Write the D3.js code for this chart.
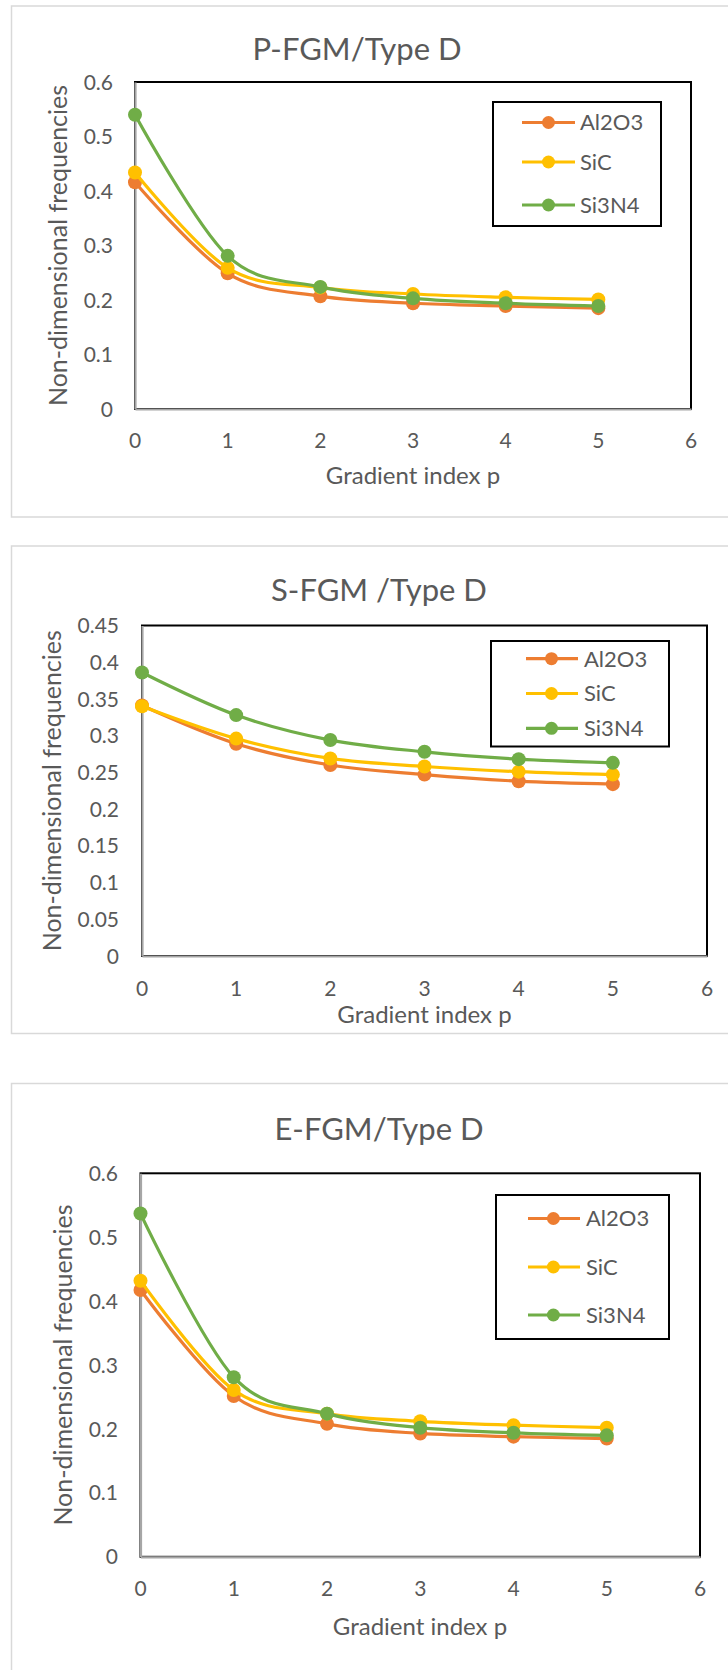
<!DOCTYPE html>
<html>
<head>
<meta charset="utf-8">
<script src="https://cdn.jsdelivr.net/npm/d3@7"></script>
<style>
  html, body { margin: 0; padding: 0; background: #fff; }
  svg { display: block; }
  text { font-family: Lato, "Open Sans", sans-serif; fill: #595959; }
</style>
</head>
<body>
<svg id="chart" width="728" height="1670"></svg>
<script>
// Gradient index values and axis ticks
const gradientIndex = [0, 1, 2, 3, 4, 5];
const xTickValues = [0, 1, 2, 3, 4, 5, 6];
const materials = ["Al2O3", "SiC", "Si3N4"];
const materialColors = ["#ED7D31", "#FFC000", "#70AD47"];

// P-FGM / Type D
const pfgmAl2O3 = [0.416, 0.249, 0.207, 0.194, 0.189, 0.185];
const pfgmSiC   = [0.434, 0.259, 0.223, 0.211, 0.205, 0.201];
const pfgmSi3N4 = [0.540, 0.281, 0.224, 0.203, 0.194, 0.189];

// S-FGM / Type D
const sfgmAl2O3 = [0.341, 0.289, 0.260, 0.247, 0.238, 0.234];
const sfgmSiC   = [0.340, 0.296, 0.269, 0.258, 0.251, 0.247];
const sfgmSi3N4 = [0.386, 0.328, 0.294, 0.278, 0.268, 0.263];

// E-FGM / Type D
const efgmAl2O3 = [0.4175, 0.2516, 0.208, 0.193, 0.188, 0.185];
const efgmSiC   = [0.432, 0.261, 0.224, 0.212, 0.206, 0.202];
const efgmSi3N4 = [0.537, 0.281, 0.224, 0.202, 0.194, 0.190];

// Y tick values
const yTicksWide = [0, 0.1, 0.2, 0.3, 0.4, 0.5, 0.6];
const yTicksNarrow = [0, 0.05, 0.1, 0.15, 0.2, 0.25, 0.3, 0.35, 0.4, 0.45];

const chartTitles = ["P-FGM/Type D", "S-FGM /Type D", "E-FGM/Type D"];
const xAxisTitle = "Gradient index p";
const yAxisTitle = "Non-dimensional frequencies";

// Panel geometry (pixels)
const panels = [
  {
    title: chartTitles[0], series: [pfgmAl2O3, pfgmSiC, pfgmSi3N4], yTicks: yTicksWide, yMax: 0.6,
    frame: { x: 11.5, y: 6, w: 730, h: 511 },
    plot: { left: 135, right: 691, top: 82, bottom: 409 },
    titleX: 357, titleY: 60, xTickY: 448, xTitleX: 413, xTitleY: 484,
    yTitleX: 67, yTickRight: 113,
    legend: { x: 493, y: 102, w: 168, h: 124, rows: [122.5, 162, 205], l0: 522, l1: 575, m: 548.5, tx: 580 }
  },
  {
    title: chartTitles[1], series: [sfgmAl2O3, sfgmSiC, sfgmSi3N4], yTicks: yTicksNarrow, yMax: 0.45,
    frame: { x: 11.5, y: 546, w: 730, h: 487.5 },
    plot: { left: 142, right: 707, top: 625.5, bottom: 956 },
    titleX: 379, titleY: 601, xTickY: 996, xTitleX: 424.5, xTitleY: 1023,
    yTitleX: 61, yTickRight: 119,
    legend: { x: 491, y: 641, w: 178, h: 105.5, rows: [658.7, 693.5, 728.3], l0: 526, l1: 578, m: 551.5, tx: 584 }
  },
  {
    title: chartTitles[2], series: [efgmAl2O3, efgmSiC, efgmSi3N4], yTicks: yTicksWide, yMax: 0.6,
    frame: { x: 11.5, y: 1083.5, w: 730, h: 600 },
    plot: { left: 140.5, right: 700, top: 1173.3, bottom: 1556.8 },
    titleX: 379, titleY: 1140, xTickY: 1596, xTitleX: 420, xTitleY: 1635,
    yTitleX: 72, yTickRight: 118,
    legend: { x: 496, y: 1195, w: 173, h: 144, rows: [1218.5, 1267, 1315], l0: 528, l1: 580, m: 553.4, tx: 586 }
  }
];

const svg = d3.select("#chart");

panels.forEach(p => {
  const g = svg.append("g");

  // outer chart frame
  g.append("rect")
    .attr("x", p.frame.x).attr("y", p.frame.y)
    .attr("width", p.frame.w).attr("height", p.frame.h)
    .attr("fill", "#fff").attr("stroke", "#d9d9d9").attr("stroke-width", 1.5);

  const x = d3.scaleLinear().domain([0, 6]).range([p.plot.left, p.plot.right]);
  const y = d3.scaleLinear().domain([0, p.yMax]).range([p.plot.bottom, p.plot.top]);

  // plot area border
  g.append("rect")
    .attr("x", p.plot.left).attr("y", p.plot.top)
    .attr("width", p.plot.right - p.plot.left).attr("height", p.plot.bottom - p.plot.top)
    .attr("fill", "none").attr("stroke", "#000").attr("stroke-width", 2);

  // axes (lines only, labels drawn separately)
  const xAxis = d3.axisBottom(x).tickValues(xTickValues).tickSize(0).tickFormat("");
  const yAxis = d3.axisLeft(y).tickValues(p.yTicks).tickSize(0).tickFormat("");
  const gx = g.append("g").attr("transform", `translate(0,${p.plot.bottom})`).call(xAxis);
  const gy = g.append("g").attr("transform", `translate(${p.plot.left},0)`).call(yAxis);
  [gx, gy].forEach(a => a.select(".domain").attr("stroke", "#a6a6a6").attr("stroke-width", 2.2));

  // tick labels
  g.append("g").selectAll("text").data(xTickValues).join("text")
    .attr("x", d => x(d)).attr("y", p.xTickY)
    .attr("text-anchor", "middle").attr("font-size", 21)
    .text(d => d);
  g.append("g").selectAll("text").data(p.yTicks).join("text")
    .attr("x", p.yTickRight).attr("y", d => y(d)).attr("dy", "0.36em")
    .attr("text-anchor", "end").attr("font-size", 21)
    .text(d => d3.format("~g")(d));

  // titles
  g.append("text").attr("x", p.titleX).attr("y", p.titleY)
    .attr("text-anchor", "middle").attr("font-size", 31).text(p.title);
  g.append("text").attr("x", p.xTitleX).attr("y", p.xTitleY)
    .attr("text-anchor", "middle").attr("font-size", 24).text(xAxisTitle);
  const yMid = (p.plot.top + p.plot.bottom) / 2;
  g.append("text")
    .attr("transform", `translate(${p.yTitleX},${yMid}) rotate(-90)`)
    .attr("text-anchor", "middle").attr("font-size", 25).text(yAxisTitle);

  // smoothed series lines with circle markers
  const line = d3.line().x((d, i) => x(gradientIndex[i])).y(d => y(d))
    .curve(d3.curveCardinal.tension(0));
  p.series.forEach((vals, si) => {
    const sg = g.append("g");
    sg.append("path").datum(vals).attr("d", line)
      .attr("fill", "none").attr("stroke", materialColors[si])
      .attr("stroke-width", 3.2).attr("stroke-linecap", "round");
    sg.selectAll("circle").data(vals).join("circle")
      .attr("cx", (d, i) => x(gradientIndex[i])).attr("cy", d => y(d))
      .attr("r", 7).attr("fill", materialColors[si]);
  });

  // legend
  const L = p.legend;
  g.append("rect").attr("x", L.x).attr("y", L.y).attr("width", L.w).attr("height", L.h)
    .attr("fill", "#fff").attr("stroke", "#000").attr("stroke-width", 2);
  materials.forEach((name, i) => {
    const cy = L.rows[i];
    g.append("line").attr("x1", L.l0).attr("x2", L.l1).attr("y1", cy).attr("y2", cy)
      .attr("stroke", materialColors[i]).attr("stroke-width", 3.2);
    g.append("circle").attr("cx", L.m).attr("cy", cy).attr("r", 6.5).attr("fill", materialColors[i]);
    g.append("text").attr("x", L.tx).attr("y", cy).attr("dy", "0.36em")
      .attr("font-size", 22).text(name);
  });
});
</script>
</body>
</html>
